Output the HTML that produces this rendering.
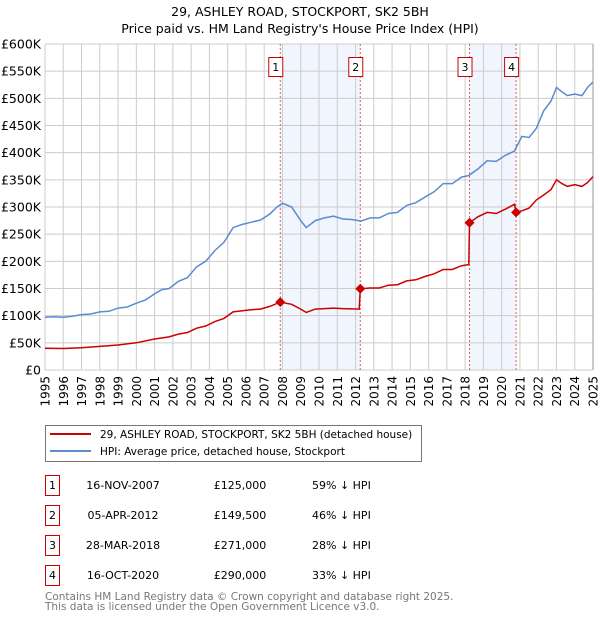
<!DOCTYPE html>
<html><head><meta charset="utf-8"><style>
body{margin:0;background:#fff;font-family:"DejaVu Sans","Liberation Sans",sans-serif;}
svg text{font-family:"DejaVu Sans","Liberation Sans",sans-serif;}
</style></head><body>
<svg id="chart" width="600" height="620" viewBox="0 0 600 620" xmlns="http://www.w3.org/2000/svg">
<text x="300" y="16" text-anchor="middle" font-size="12.5">29, ASHLEY ROAD, STOCKPORT, SK2 5BH</text>
<text x="300" y="33" text-anchor="middle" font-size="12.5">Price paid vs. HM Land Registry's House Price Index (HPI)</text>
<g id="shade"></g><g id="grid"></g><g id="axes"></g><g id="series"></g><g id="marks"></g>
<g>
<rect x="45.5" y="425.5" width="376" height="36" fill="#fff" stroke="#777"/>
<line x1="50" y1="434" x2="91" y2="434" stroke="#cc0000" stroke-width="2"/>
<text x="100" y="438" font-size="10.5">29, ASHLEY ROAD, STOCKPORT, SK2 5BH (detached house)</text>
<line x1="50" y1="451" x2="91" y2="451" stroke="#5b8bd0" stroke-width="2"/>
<text x="100" y="455" font-size="10.5">HPI: Average price, detached house, Stockport</text>
</g>
<g id="table"></g>
<text x="45" y="600" font-size="10.5" fill="#777">Contains HM Land Registry data © Crown copyright and database right 2025.</text>
<text x="45" y="610" font-size="10.5" fill="#777">This data is licensed under the Open Government Licence v3.0.</text>
</svg>
<script>
const yTicks=[0,50,100,150,200,250,300,350,400,450,500,550,600];
const yTickLabels=["£0","£50K","£100K","£150K","£200K","£250K","£300K","£350K","£400K","£450K","£500K","£550K","£600K"];
const years=[1995,1996,1997,1998,1999,2000,2001,2002,2003,2004,2005,2006,2007,2008,2009,2010,2011,2012,2013,2014,2015,2016,2017,2018,2019,2020,2021,2022,2023,2024,2025];
const hpiT=[1995.0,1995.5,1996.0,1996.5,1997.0,1997.5,1998.0,1998.5,1999.0,1999.5,2000.0,2000.5,2001.0,2001.4,2001.8,2002.3,2002.8,2003.3,2003.8,2004.3,2004.8,2005.3,2005.8,2006.3,2006.8,2007.3,2007.7,2008.0,2008.5,2009.0,2009.3,2009.8,2010.3,2010.8,2011.3,2011.8,2012.3,2012.8,2013.3,2013.8,2014.3,2014.8,2015.3,2015.8,2016.3,2016.8,2017.3,2017.8,2018.2,2018.7,2019.2,2019.7,2020.2,2020.7,2021.1,2021.5,2021.9,2022.3,2022.7,2023.0,2023.3,2023.6,2024.0,2024.4,2024.7,2025.0];
const hpiV=[97,98,97,99,102,103,107,108,114,116,123,129,140,148,150,163,170,190,200,220,235,262,268,272,276,287,300,307,300,275,262,275,280,283,278,277,274,280,280,288,290,303,308,318,328,343,343,355,358,370,385,384,395,403,430,428,445,477,495,520,512,505,508,505,520,530];
const redT=[1995.0,1996.0,1997.0,1998.0,1999.0,2000.0,2001.0,2001.8,2002.3,2002.8,2003.3,2003.8,2004.3,2004.8,2005.3,2005.8,2006.3,2006.8,2007.3,2007.88,2008.5,2009.0,2009.3,2009.8,2010.3,2010.8,2011.3,2011.8,2012.2,2012.26,2012.8,2013.3,2013.8,2014.3,2014.8,2015.3,2015.8,2016.3,2016.8,2017.3,2017.8,2018.2,2018.24,2018.7,2019.2,2019.7,2020.2,2020.7,2020.79,2021.1,2021.5,2021.9,2022.3,2022.7,2023.0,2023.3,2023.6,2024.0,2024.4,2024.7,2025.0];
const redV=[40,39.5,41,43.5,46,50,57,61,66,69,77,81,89,95,107,109,111,112,117,125,121,112,106,112,113,114,113,112.5,112,149.5,151,151,156,157,164,166,172,177,185,185,192,194,271,282,290,288,296,305,290,293,298,313,322,332,350,343,338,341,338,345,356];
const saleLabels=["1","2","3","4"];
const saleT=[2007.88,2012.26,2018.24,2020.79];
const saleV=[125,149.5,271,290];
const saleDates=["16-NOV-2007","05-APR-2012","28-MAR-2018","16-OCT-2020"];
const salePrices=["£125,000","£149,500","£271,000","£290,000"];
const saleHpi=["59% ↓ HPI","46% ↓ HPI","28% ↓ HPI","33% ↓ HPI"];

const NS="http://www.w3.org/2000/svg";
const X0=45,X1=593,Y0=370,Y1=44;
const xs=t=>X0+(t-1995)/30*(X1-X0);
const ys=v=>Y0-v/600*(Y0-Y1);
function mk(tag,attrs,parent){const e=document.createElementNS(NS,tag);for(const k in attrs)e.setAttribute(k,attrs[k]);parent.appendChild(e);return e;}
const shade=document.getElementById('shade'),grid=document.getElementById('grid'),axes=document.getElementById('axes'),series=document.getElementById('series'),marks=document.getElementById('marks'),table=document.getElementById('table');
mk('rect',{x:X0,y:Y1,width:X1-X0,height:Y0-Y1,fill:'#fff'},shade);
[[0,1],[2,3]].forEach(([a,b],i)=>{const r=mk('rect',{x:xs(saleT[a]),y:Y1,width:xs(saleT[b])-xs(saleT[a]),height:Y0-Y1,fill:'#f1f5fd'},shade);

});
yTicks.forEach((v,i)=>{const l=mk('line',{x1:X0,x2:X1,y1:ys(v),y2:ys(v),stroke:'#ccc','stroke-width':1},grid);


const t=mk('text',{x:X0-4,y:ys(v)+4.5,'text-anchor':'end','font-size':12.5},axes);t.textContent=yTickLabels[i];

});
years.forEach(yr=>{const l=mk('line',{x1:xs(yr),x2:xs(yr),y1:Y1,y2:Y0,stroke:'#ccc','stroke-width':1},grid);


const t=mk('text',{x:0,y:0,'text-anchor':'end','font-size':12,transform:`translate(${xs(yr)+4.5},${Y0+6}) rotate(-90)`},axes);t.textContent=yr;

});
mk('line',{x1:X1,x2:X1,y1:Y1,y2:Y0,stroke:'#999'},axes);
saleT.forEach((t,i)=>{const l=mk('line',{x1:xs(t),x2:xs(t),y1:Y1,y2:Y0,stroke:'#e06060','stroke-dasharray':'2,2','stroke-width':1},grid);


const g=mk('g',{},marks);


mk('rect',{x:xs(t)-11.5,y:57.5,width:14,height:19,fill:'#fff',stroke:'#cc0000'},g);
const tx=mk('text',{x:xs(t)-4.5,y:71,'text-anchor':'middle','font-size':11},g);tx.textContent=saleLabels[i];});
function path(T,V){return T.map((t,i)=>(i?'L':'M')+xs(t).toFixed(1)+','+ys(V[i]).toFixed(1)).join('');}
const hp=mk('path',{d:path(hpiT,hpiV),fill:'none',stroke:'#5b8bd0','stroke-width':1.5},series);


const rp=mk('path',{d:path(redT,redV),fill:'none',stroke:'#cc0000','stroke-width':1.5},series);


saleT.forEach((t,i)=>{const d=mk('path',{d:`M${xs(t)},${ys(saleV[i])-5}l5,5l-5,5l-5,-5z`,fill:'#cc0000'},marks);

});
saleLabels.forEach((lab,i)=>{const y=475+i*30;
const g=mk('g',{},table);


mk('rect',{x:45.5,y:y+0.5,width:14,height:20,fill:'#fff',stroke:'#cc0000'},g);
let t=mk('text',{x:52.5,y:y+14,'text-anchor':'middle','font-size':11},g);t.textContent=lab;
t=mk('text',{x:123,y:y+14,'text-anchor':'middle','font-size':11},g);t.textContent=saleDates[i];
t=mk('text',{x:240,y:y+14,'text-anchor':'middle','font-size':11},g);t.textContent=salePrices[i];
t=mk('text',{x:312,y:y+14,'font-size':11},g);t.textContent=saleHpi[i];});
</script>
</body></html>
